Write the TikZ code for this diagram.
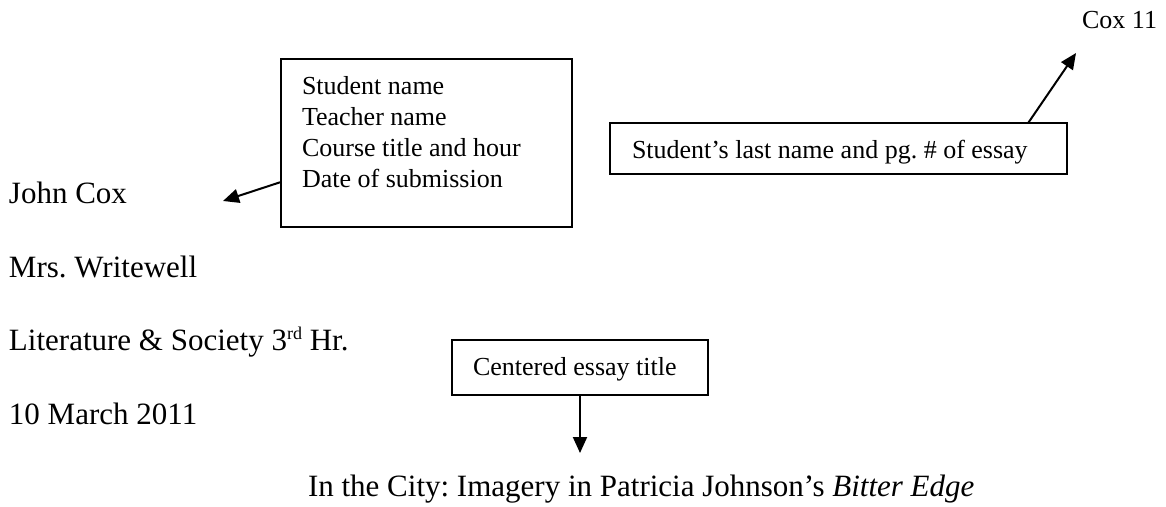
\documentclass[tikz,border=0pt]{standalone}
\usepackage{fontspec}
\setmainfont{Liberation Serif}
\usetikzlibrary{arrows.meta,calc}
\frenchspacing
\begin{document}
\begin{tikzpicture}[x=1pt,y=-1pt,
  every node/.style={inner sep=0pt, outer sep=0pt},
  body/.style={anchor=base west, font=\fontsize{31}{37}\selectfont},
  note/.style={anchor=base west, font=\fontsize{26}{31}\selectfont},
  frame/.style={draw, line width=1.6pt, anchor=north west},
  pointer/.style={line width=2pt, -{Triangle[length=16pt,width=14pt]}}]
\useasboundingbox (0,0) rectangle (1166,506);

% header page number
\node[note, anchor=base east] (pagenum) at (1157,28) {Cox 11};

% boxes
\node[frame, minimum width=291pt, minimum height=168pt] (box1) at (281,59) {};
\node[note] (box1txt) at (302,94) {\vtop{\hbox{Student name}\hbox{Teacher name}\hbox{Course title and hour}\hbox{Date of submission}}};

\node[frame, minimum width=457pt, minimum height=51pt] (box2) at (610,123) {};
\node[note] (box2txt) at (632,158) {Student’s last name and pg. \# of essay};

\node[frame, minimum width=256pt, minimum height=55pt] (box3) at (452,340) {};
\node[note] (box3txt) at (473,375) {Centered essay title};

% heading lines
\node[body] (name) at (9,203) {John Cox};
\node[body] (teacher) at (9,277) {Mrs. Writewell};
\node[body] (course) at (9,350) {Literature \& Society 3\raisebox{11pt}{\fontsize{18}{20}\selectfont rd} Hr.};
\node[body] (date) at (9,424) {10 March 2011};
\node[body] (title) at (308,496) {In the City: Imagery in Patricia Johnson’s \textit{Bitter Edge}};

% pointers
\coordinate (tip1) at (223,201);
\draw[pointer] ($(box1.north west)!0.732!(box1.south west)$) -- (tip1);
\coordinate (tip2) at (1076,53);
\draw[pointer] ($(box2.north west)!0.915!(box2.north east)$) -- (tip2);
\coordinate (tip3) at (580,453);
\draw[pointer] (box3.south) -- (tip3);
\end{tikzpicture}
\end{document}
